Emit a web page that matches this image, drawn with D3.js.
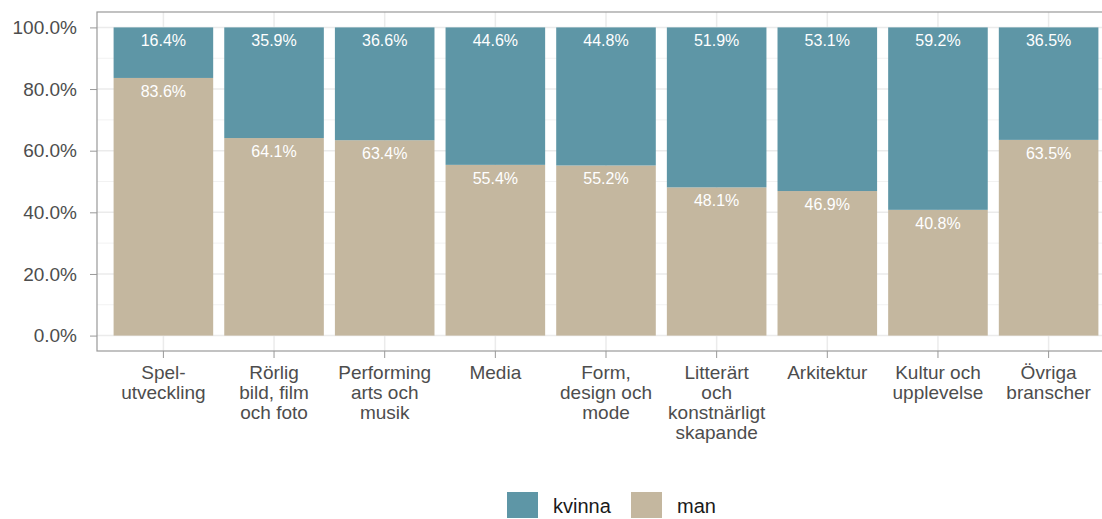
<!DOCTYPE html>
<html>
<head>
<meta charset="utf-8">
<script src="https://cdn.jsdelivr.net/npm/d3@7"></script>
<style>
  body { margin: 0; background: #fff; }
  svg { display: block; font-family: "Liberation Sans", Arial, sans-serif; }
</style>
</head>
<body>
<div id="chart"></div>
<script>
// branscher (axis labels, line breaks as drawn)
const categories = [
  "Spel-\nutveckling",
  "Rörlig\nbild, film\noch foto",
  "Performing\narts och\nmusik",
  "Media",
  "Form,\ndesign och\nmode",
  "Litterärt\noch\nkonstnärligt\nskapande",
  "Arkitektur",
  "Kultur och\nupplevelse",
  "Övriga\nbranscher"
];
const kvinna = [16.4, 35.9, 36.6, 44.6, 44.8, 51.9, 53.1, 59.2, 36.5];
const man    = [83.6, 64.1, 63.4, 55.4, 55.2, 48.1, 46.9, 40.8, 63.5];
const seriesNames = ["kvinna", "man"];
const yTicks = [0, 20, 40, 60, 80, 100];
const yMinor = [10, 30, 50, 70, 90];

const width = 1102, height = 519;
const margin = {top: 12, right: -13, bottom: 168, left: 97};
const innerW = width - margin.left - margin.right;
const innerH = height - margin.top - margin.bottom;

const color = d3.scaleOrdinal().domain(seriesNames).range(["#5e96a6", "#c4b79f"]);

const svg = d3.select("#chart").append("svg")
    .attr("width", width)
    .attr("height", height);

const g = svg.append("g")
    .attr("transform", `translate(${margin.left}, ${margin.top})`);

const x = d3.scaleBand()
    .domain(categories)
    .range([0, innerW])
    .paddingInner(0.1)
    .paddingOuter(0.15);

const y = d3.scaleLinear()
    .domain([-5, 105])
    .range([innerH, 0]);

// grid
g.selectAll(".minor").data(yMinor).enter().append("line")
    .attr("x1", 0).attr("x2", innerW)
    .attr("y1", d => y(d)).attr("y2", d => y(d))
    .attr("stroke", "#f2f2f2").attr("stroke-width", 1);
g.selectAll(".major").data(yTicks).enter().append("line")
    .attr("x1", 0).attr("x2", innerW)
    .attr("y1", d => y(d)).attr("y2", d => y(d))
    .attr("stroke", "#ebebeb").attr("stroke-width", 1.5);
g.selectAll(".vgrid").data(categories).enter().append("line")
    .attr("x1", d => x(d) + x.bandwidth() / 2).attr("x2", d => x(d) + x.bandwidth() / 2)
    .attr("y1", 0).attr("y2", innerH)
    .attr("stroke", "#ebebeb").attr("stroke-width", 1.5);

// stacked bars: man at the bottom, kvinna on top
const rows = categories.map((c, i) => ({cat: c, man: man[i], kvinna: kvinna[i]}));
const stack = d3.stack().keys(["man", "kvinna"])(rows);

const layer = g.selectAll(".layer").data(stack).enter().append("g")
    .attr("fill", d => color(d.key));

layer.selectAll("rect").data(d => d).enter().append("rect")
    .attr("x", d => x(d.data.cat))
    .attr("width", x.bandwidth())
    .attr("y", d => y(d[1]))
    .attr("height", d => y(d[0]) - y(d[1]));

layer.selectAll("text").data(d => d.map(v => ({v, key: d.key}))).enter().append("text")
    .attr("x", d => x(d.v.data.cat) + x.bandwidth() / 2)
    .attr("y", d => y(d.v[1]) + 19)
    .attr("text-anchor", "middle")
    .attr("fill", "#fff")
    .style("font-size", "16px")
    .text(d => d.v.data[d.key].toFixed(1) + "%");

// panel border + axes
g.append("rect")
    .attr("x", 0).attr("y", 0).attr("width", innerW).attr("height", innerH)
    .attr("fill", "none").attr("stroke", "#999").attr("stroke-width", 1.2);

const yAxis = g.append("g")
    .call(d3.axisLeft(y).tickValues(yTicks).tickSize(7).tickPadding(13)
        .tickFormat(d => d.toFixed(1) + "%"));
yAxis.select(".domain").remove();
yAxis.selectAll("line").attr("stroke", "#999");
yAxis.selectAll("text").attr("fill", "#4d4d4d").style("font-size", "19px");

const xAxis = g.append("g")
    .attr("transform", `translate(0, ${innerH})`)
    .call(d3.axisBottom(x).tickSize(7).tickFormat(""));
xAxis.select(".domain").remove();
xAxis.selectAll("line").attr("stroke", "#999");

xAxis.selectAll(".tick").append("text")
    .attr("fill", "#4d4d4d")
    .attr("text-anchor", "middle")
    .style("font-size", "19px")
    .selectAll("tspan")
    .data(d => d.split("\n"))
    .enter().append("tspan")
        .attr("x", 0)
        .attr("y", (d, i) => 28 + i * 20)
        .text(d => d);

// legend
const legend = svg.append("g").attr("transform", "translate(507, 492)");
const items = legend.selectAll("g").data(seriesNames).enter().append("g")
    .attr("transform", (d, i) => `translate(${i * 124}, 0)`);
items.append("rect")
    .attr("width", 31).attr("height", 26)
    .attr("fill", d => color(d));
items.append("text")
    .attr("x", 46).attr("y", 21)
    .attr("fill", "#1a1a1a")
    .style("font-size", "20px")
    .text(d => d);
</script>
</body>
</html>
